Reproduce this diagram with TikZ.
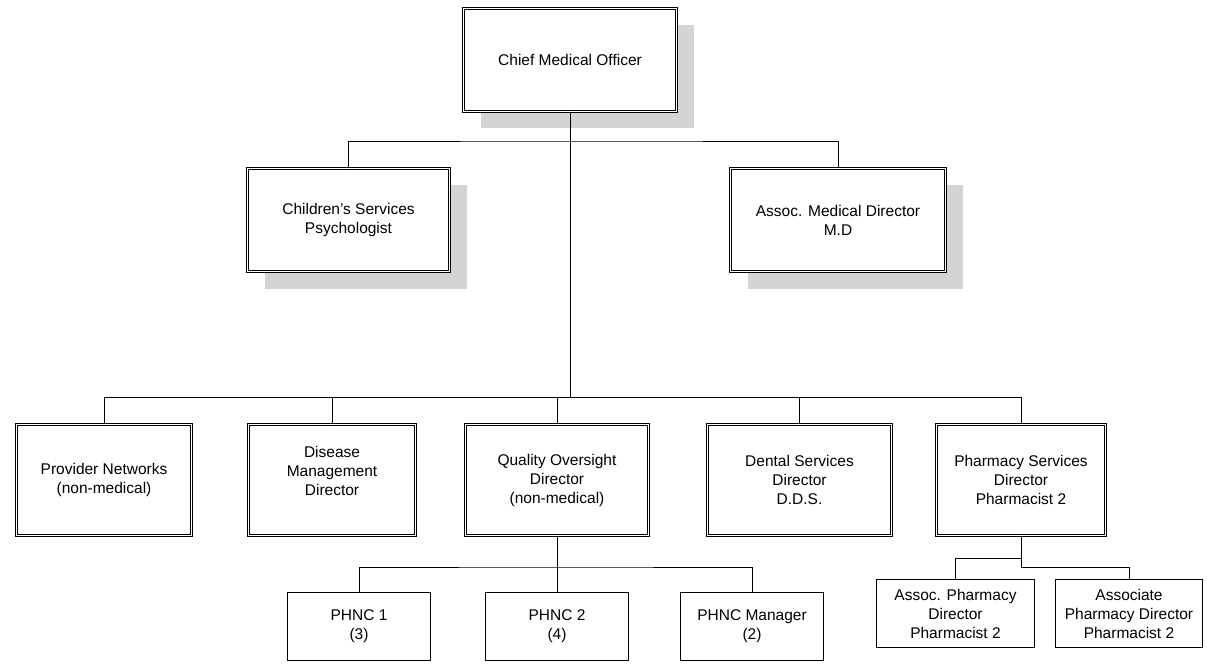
\documentclass[tikz,border=0pt]{standalone}
\usepackage{fontspec}
\setmainfont{Liberation Sans}
\usetikzlibrary{shadows}

\tikzset{
  unit/.style={draw, double, double distance=1.6pt, line width=0.9pt, fill=white,
    align=center, inner sep=2pt},
  shadowed/.style={drop shadow={shadow xshift=17pt, shadow yshift=-17pt, fill=black!17, opacity=1}},
  staff/.style={draw, line width=0.8pt, fill=white, align=center, inner sep=2pt, minimum height=68pt},
  link/.style={line width=0.9pt}
}

\begin{document}
\begin{tikzpicture}[x=1pt,y=-1pt,font=\fontsize{15.5}{19}\selectfont]
  \useasboundingbox (0,0) rectangle (1207,671);
  %top
  \node[unit,shadowed,minimum width=213pt,minimum height=103pt] (cmo) at (570,60) {Chief Medical Officer};
  \node[unit,shadowed,minimum width=202pt,minimum height=103pt] (kids) at (348.5,220) {Children's Services\\Psychologist};
  \node[unit,shadowed,minimum width=215pt,minimum height=103pt] (amd) at (838,220) {Assoc. Medical Director\\M.D};
  %directors
  \node[unit,minimum width=175pt,minimum height=111pt] (prov) at (104,480) {Provider Networks\\(non-medical)};
  \node[unit,minimum width=167pt,minimum height=111pt] (dis) at (332,480) {Disease\\Management\\Director\\};
  \node[unit,minimum width=183pt,minimum height=111pt] (qual) at (557,480) {Quality Oversight\\Director\\(non-medical)};
  \node[unit,minimum width=184pt,minimum height=111pt] (dent) at (799.5,480) {Dental Services\\Director\\D.D.S.};
  \node[unit,minimum width=169pt,minimum height=111pt] (pharm) at (1021,480) {Pharmacy Services\\Director\\Pharmacist 2};
  %staff
  \node[staff,minimum width=143pt] (phnca) at (359,626.5) {PHNC 1\\(3)};
  \node[staff,minimum width=143pt] (phncb) at (557,626.5) {PHNC 2\\(4)};
  \node[staff,minimum width=143pt] (phncm) at (752,626.5) {PHNC Manager\\(2)};
  \node[staff,minimum width=158pt] (apd) at (955.5,613.5) {Assoc. Pharmacy\\Director\\Pharmacist 2};
  \node[staff,minimum width=147pt] (asp) at (1129,613.5) {Associate\\Pharmacy Director\\Pharmacist 2};
  %buses
  \coordinate (busa) at (570,141);
  \coordinate (busb) at (570,397);
  \coordinate (busc) at (557,567);
  \coordinate (busd) at (1021,558);
  \coordinate (buse) at (1021,567);
  %lines
  \draw[link] (kids.north) |- (busa) -| (amd.north);
  \draw[link] (cmo.south) -- (busb);
  \draw[link] (prov.north) |- (busb) -| (pharm.north);
  \foreach \n in {dis,qual,dent} \draw[link] (\n.north) |- (busb);
  \draw[link] (qual.south) -- (busc);
  \draw[link] (phnca.north) |- (busc) -| (phncm.north);
  \draw[link] (phncb.north) -- (busc);
  \draw[link] (pharm.south) -- (buse) -| (asp.north);
  \draw[link] (apd.north) |- (busd);
\end{tikzpicture}
\end{document}
